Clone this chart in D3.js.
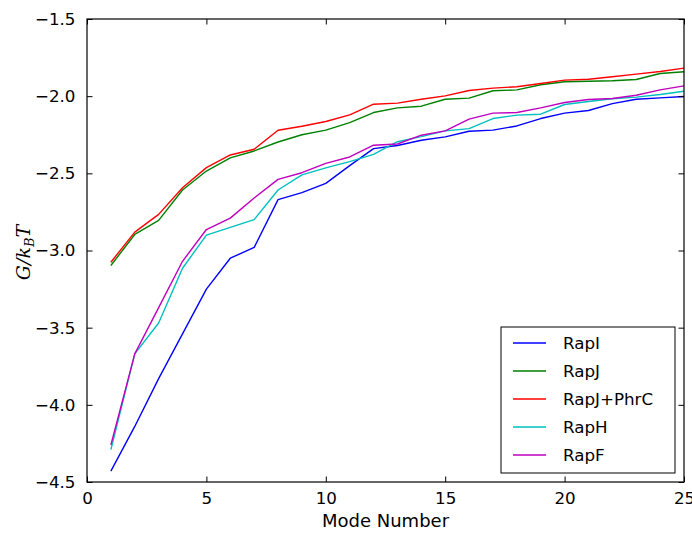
<!DOCTYPE html>
<html>
<head>
<meta charset="utf-8">
<script src="https://cdn.jsdelivr.net/npm/d3@7"></script>
<style>
  html, body { margin: 0; padding: 0; background: #fff; }
  svg { display: block; }
  text { font-family: "DejaVu Sans", sans-serif; fill: #000; }
</style>
</head>
<body>
<svg id="chart" width="692" height="534"></svg>
<script>
// Mode numbers along the x axis
const modes = d3.range(1, 26);

// Free energy per mode (G / k_B T) for each protein
const rapI = [-4.43, -4.14, -3.83, -3.54, -3.25, -3.05, -2.98, -2.67, -2.625, -2.565,
  -2.45, -2.34, -2.32, -2.286, -2.264, -2.227, -2.22, -2.193, -2.145, -2.11,
  -2.093, -2.048, -2.02, -2.011, -2.002];
const rapJ = [-3.097, -2.896, -2.805, -2.608, -2.485, -2.40, -2.355, -2.297, -2.25, -2.22,
  -2.171, -2.106, -2.076, -2.065, -2.02, -2.013, -1.965, -1.959, -1.926, -1.907,
  -1.903, -1.90, -1.892, -1.853, -1.842];
const rapJPhrC = [-3.076, -2.881, -2.766, -2.593, -2.463, -2.381, -2.344, -2.221, -2.195, -2.164,
  -2.121, -2.052, -2.045, -2.02, -1.998, -1.963, -1.948, -1.939, -1.918, -1.896,
  -1.89, -1.874, -1.857, -1.84, -1.818];
const rapH = [-4.29, -3.67, -3.47, -3.115, -2.90, -2.85, -2.80, -2.608, -2.51, -2.465,
  -2.424, -2.377, -2.295, -2.262, -2.225, -2.21, -2.145, -2.123, -2.117, -2.054,
  -2.035, -2.017, -2.006, -1.989, -1.968];
const rapF = [-4.26, -3.67, -3.37, -3.07, -2.864, -2.79, -2.66, -2.539, -2.496, -2.435,
  -2.394, -2.318, -2.31, -2.253, -2.225, -2.149, -2.11, -2.106, -2.076, -2.041,
  -2.022, -2.015, -1.994, -1.959, -1.933];

const seriesNames = ["RapI", "RapJ", "RapJ+PhrC", "RapH", "RapF"];
const seriesValues = [rapI, rapJ, rapJPhrC, rapH, rapF];
const seriesColors = ["#0000ff", "#008000", "#ff0000", "#00bfbf", "#bf00bf"];

const xTicks = [0, 5, 10, 15, 20, 25];
const yTicks = [-4.5, -4.0, -3.5, -3.0, -2.5, -2.0, -1.5];

const svg = d3.select("#chart");
const margin = { left: 87, right: 8, top: 19, bottom: 52 };
const W = 692, H = 534;
const x0 = margin.left, x1 = W - margin.right;
const y0 = H - margin.bottom, y1 = margin.top;

const x = d3.scaleLinear().domain([0, 25]).range([x0, x1]);
const y = d3.scaleLinear().domain([-4.5, -1.5]).range([y0, y1]);

const fontSize = 16.7;
const tickLen = 5.5;

// Data lines
const line = d3.line().x((d, i) => x(modes[i])).y(d => y(d));
const plot = svg.append("g");
seriesValues.forEach((vals, k) => {
  plot.append("path")
    .datum(vals)
    .attr("d", line)
    .attr("fill", "none")
    .attr("stroke", seriesColors[k])
    .attr("stroke-width", 1.4)
    .attr("stroke-linejoin", "round");
});

// Axes with inward ticks on all four sides
const bottomAxis = d3.axisBottom(x).tickValues(xTicks).tickSizeInner(-tickLen).tickSizeOuter(0)
  .tickPadding(tickLen + 5).tickFormat(d3.format("d"));
const topAxis = d3.axisTop(x).tickValues(xTicks).tickSizeInner(-tickLen).tickSizeOuter(0).tickFormat("");
const leftAxis = d3.axisLeft(y).tickValues(yTicks).tickSizeInner(-tickLen).tickSizeOuter(0)
  .tickPadding(tickLen + 6).tickFormat(d => "\u2212" + Math.abs(d).toFixed(1));
const rightAxis = d3.axisRight(y).tickValues(yTicks).tickSizeInner(-tickLen).tickSizeOuter(0).tickFormat("");

function styleAxis(g) {
  g.select(".domain").remove();
  g.selectAll(".tick line").attr("stroke", "#000").attr("stroke-width", 1);
  g.selectAll(".tick text").style("font-size", fontSize + "px").attr("fill", "#000")
    .style("font-family", "'DejaVu Sans', sans-serif");
}

svg.append("g").attr("transform", `translate(0,${y0})`).call(bottomAxis).call(styleAxis);
svg.append("g").attr("transform", `translate(0,${y1})`).call(topAxis).call(styleAxis);
svg.append("g").attr("transform", `translate(${x0},0)`).call(leftAxis).call(styleAxis);
svg.append("g").attr("transform", `translate(${x1},0)`).call(rightAxis).call(styleAxis);

// Plot frame
svg.append("rect")
  .attr("x", x0).attr("y", y1)
  .attr("width", x1 - x0).attr("height", y0 - y1)
  .attr("fill", "none").attr("stroke", "#000").attr("stroke-width", 1.2);

// Axis titles
svg.append("text")
  .attr("x", (x0 + x1) / 2).attr("y", 527)
  .attr("text-anchor", "middle")
  .style("font-size", "18px")
  .text("Mode Number");

const yl = svg.append("text")
  .attr("transform", `translate(30,${(y0 + y1) / 2 + 2}) rotate(-90)`)
  .attr("text-anchor", "middle")
  .style("font-family", "'DejaVu Serif', serif")
  .style("font-style", "italic")
  .style("font-size", "19px");
yl.append("tspan").text("G/k");
yl.append("tspan").attr("dy", 4).style("font-size", "13px").text("B");
yl.append("tspan").attr("dy", -4).text("T");

// Legend
const lg = svg.append("g").attr("transform", "translate(501,327)");
lg.append("rect").attr("width", 174).attr("height", 146)
  .attr("fill", "#fff").attr("stroke", "#000").attr("stroke-width", 1);
seriesNames.forEach((name, k) => {
  const cy = 16 + k * 28;
  lg.append("line").attr("x1", 12).attr("x2", 45).attr("y1", cy).attr("y2", cy)
    .attr("stroke", seriesColors[k]).attr("stroke-width", 1.4);
  lg.append("text").attr("x", 62).attr("y", cy).attr("dy", "0.36em")
    .style("font-size", fontSize + "px").text(name);
});
</script>
</body>
</html>
